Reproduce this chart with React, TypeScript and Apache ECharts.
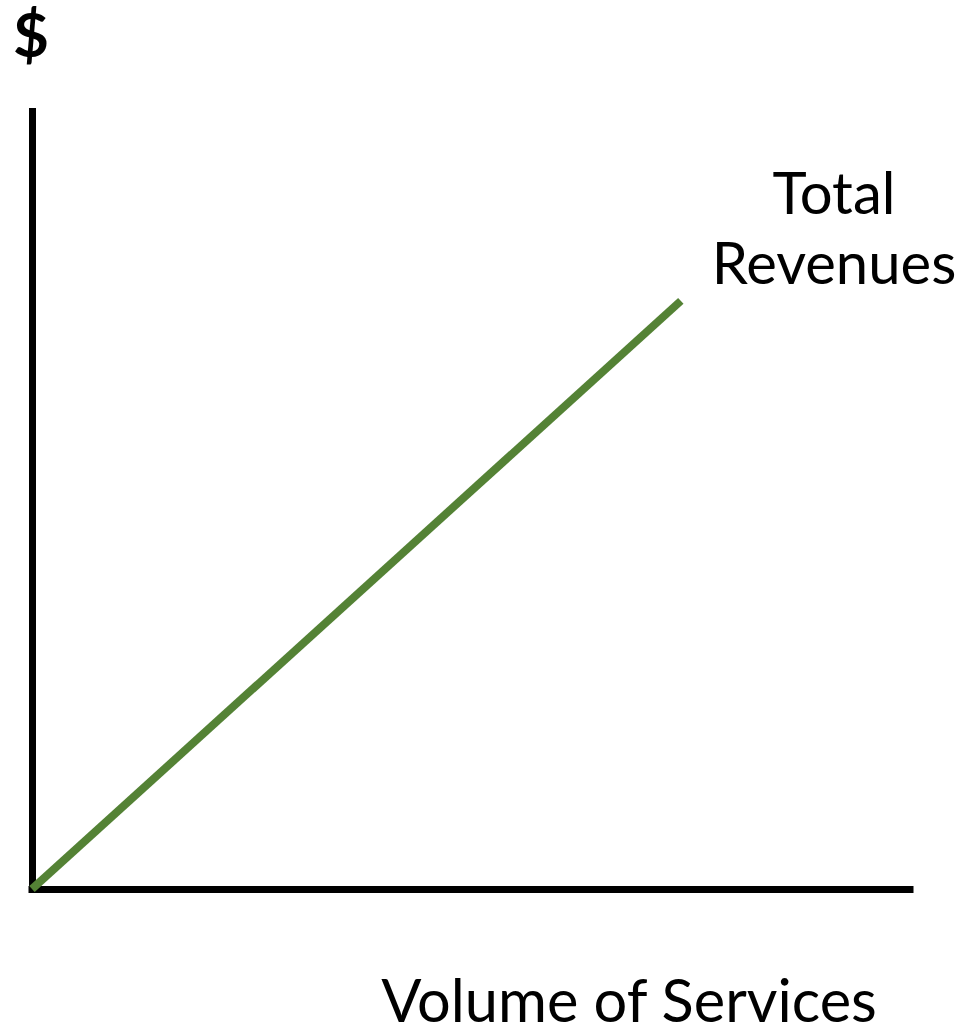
import React, { useEffect, useRef } from "react";
import * as echarts from "echarts";

const volume = [0, 73.9];
const revenues = [0, 75.3];
const lineLabel = ["Total", "Revenues"];
const xTitle = "Volume of Services";
const yTitle = "$";

const FONT = "Lato";

export default function App() {
  const ref = useRef<HTMLDivElement>(null);
  useEffect(() => {
    if (!ref.current) return;
    const chart = echarts.init(ref.current, undefined, { renderer: "svg" });
    const data = volume.map((v, i) => [v, revenues[i]]);
    chart.setOption({
      animation: false,
      backgroundColor: "#ffffff",
      grid: { left: 32, top: 108, width: 878, height: 781, containLabel: false },
      xAxis: {
        type: "value",
        min: 0,
        max: 100,
        axisLine: { show: true, onZero: false, lineStyle: { color: "#000", width: 7, cap: "square" } },
        axisTick: { show: false },
        axisLabel: { show: false },
        splitLine: { show: false },
      },
      yAxis: {
        type: "value",
        min: 0,
        max: 100,
        axisLine: { show: true, onZero: false, lineStyle: { color: "#000", width: 7, cap: "butt" } },
        axisTick: { show: false },
        axisLabel: { show: false },
        splitLine: { show: false },
      },
      series: [
        {
          type: "line",
          data,
          symbol: "none",
          lineStyle: { color: "#548235", width: 8, cap: "butt" },
          z: 1,
        },
      ],
      graphic: [
        {
          type: "text",
          x: 31,
          y: 2,
          style: { text: yTitle, font: `bold 62px ${FONT}`, fill: "#000", textAlign: "center" },
        },
        {
          type: "text",
          x: 834,
          y: 162,
          style: { text: lineLabel[0], font: `58px ${FONT}`, fill: "#000", textAlign: "center" },
        },
        {
          type: "text",
          x: 834,
          y: 232,
          style: { text: lineLabel[1], font: `58px ${FONT}`, fill: "#000", textAlign: "center" },
        },
        {
          type: "text",
          x: 629,
          y: 969,
          style: { text: xTitle, font: `59.5px ${FONT}`, fill: "#000", textAlign: "center" },
        },
      ],
    });
    return () => chart.dispose();
  }, []);
  return <div ref={ref} style={{ position: "fixed", left: 0, top: 0, width: 979, height: 1029 }} />;
}
